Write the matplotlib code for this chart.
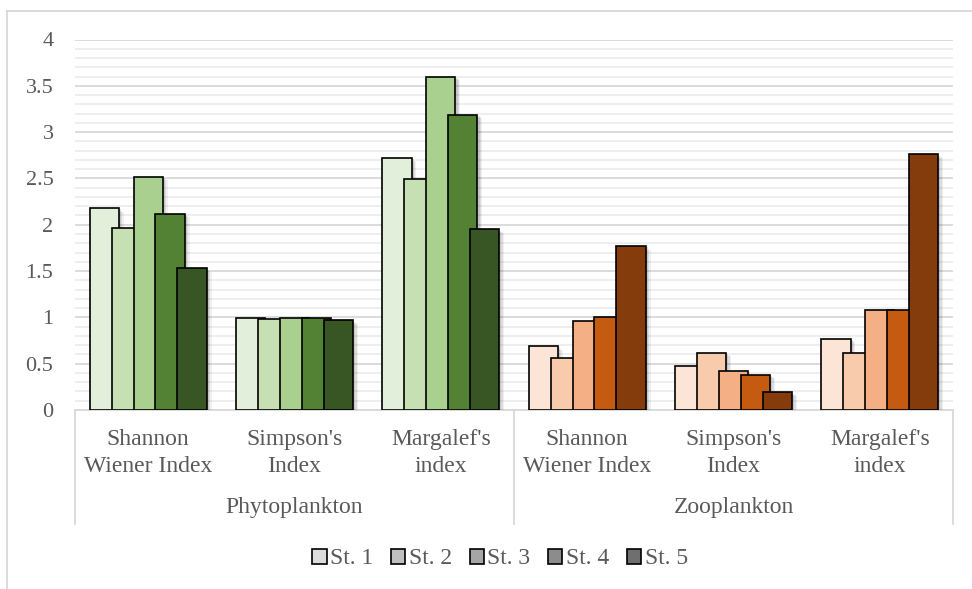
import numpy as np
import matplotlib
matplotlib.use("Agg")
import matplotlib.pyplot as plt
import matplotlib.patheffects as pe
from matplotlib.patches import Patch
from matplotlib.lines import Line2D
from matplotlib.ticker import MultipleLocator
from matplotlib.transforms import blended_transform_factory

# Diversity indices per station
categories = ["Shannon\nWiener Index", "Simpson's\nIndex", "Margalef's\nindex",
              "Shannon\nWiener Index", "Simpson's\nIndex", "Margalef's\nindex"]
groups = ["Phytoplankton", "Zooplankton"]
stations = ["St. 1", "St. 2", "St. 3", "St. 4", "St. 5"]

st1 = [2.18, 0.99, 2.72, 0.69, 0.47, 0.77]
st2 = [1.96, 0.98, 2.49, 0.56, 0.62, 0.62]
st3 = [2.52, 0.99, 3.60, 0.96, 0.42, 1.08]
st4 = [2.12, 0.99, 3.19, 1.00, 0.38, 1.08]
st5 = [1.53, 0.97, 1.95, 1.77, 0.19, 2.76]
values = [st1, st2, st3, st4, st5]

greens = ["#E2EFDA", "#C6E0B4", "#A9D08E", "#548235", "#375623"]
oranges = ["#FCE4D6", "#F8CBAD", "#F4B084", "#C55A11", "#843C0C"]
legend_grays = ["#DCDCDC", "#BFBFBF", "#A5A5A5", "#8C8C8C", "#6F6F6F"]

W, H = 972, 589
txt = "#595959"
plt.rcParams["font.family"] = ["Liberation Serif", "DejaVu Serif"]

fig = plt.figure(figsize=(W / 100, H / 100), dpi=100)
ax = fig.add_axes([75 / W, (H - 410) / H, (953 - 75) / W, (410 - 39.5) / H])

x = np.arange(len(categories))
step, width = 0.15, 0.2
shadow = [pe.SimplePatchShadow(offset=(3.5, -2.5), shadow_rgbFace="k", alpha=0.06),
          pe.SimplePatchShadow(offset=(2.5, -1.8), shadow_rgbFace="k", alpha=0.08),
          pe.SimplePatchShadow(offset=(1.5, -1), shadow_rgbFace="k", alpha=0.1),
          pe.Normal()]
for i, vals in enumerate(values):
    cols = [greens[i]] * 3 + [oranges[i]] * 3
    bars = ax.bar(x + (i - 2) * step, vals, width, color=cols,
                  edgecolor="black", linewidth=1.2, zorder=3 + i)
    for b in bars:
        b.set_path_effects(shadow)

ax.set_xlim(-0.5, len(categories) - 0.5)
ax.set_ylim(0, 4)
ax.yaxis.set_major_locator(MultipleLocator(0.5))
ax.yaxis.set_minor_locator(MultipleLocator(0.1))
ax.set_yticklabels([f"{v:g}" for v in ax.get_yticks()])
ax.grid(which="major", axis="y", color="#D9D9D9", linewidth=1.3, zorder=1)
ax.grid(which="minor", axis="y", color="#EDEDED", linewidth=1.3, zorder=0)
ax.tick_params(axis="y", which="both", length=0, pad=15.5, labelsize=16, labelcolor=txt)
ax.set_xticks([])
for s in ["top", "right", "left"]:
    ax.spines[s].set_visible(False)
ax.spines["bottom"].set_color("#D9D9D9")
ax.spines["bottom"].set_linewidth(1.3)

# Two-level category axis below the plot
tr = blended_transform_factory(ax.transData, fig.transFigure)
for xi, lab in zip(x, categories):
    fig.text(xi, 1 - 453 / H, lab, transform=tr, ha="center", va="center",
             fontsize=17, color=txt, linespacing=1.35)
for gi, g in enumerate(groups):
    fig.text(gi * 3 + 1, 1 - 508 / H, g, transform=tr, ha="center", va="center",
             fontsize=17, color=txt)
for xs in [-0.5, 2.5, 5.5]:
    fig.add_artist(Line2D([xs, xs], [1 - 410 / H, 1 - 524 / H], transform=tr,
                          color="#D9D9D9", linewidth=1.3))

# Chart frame
fig.add_artist(Line2D([7 / W, 7 / W], [0, 1 - 10.5 / H], color="#D9D9D9", linewidth=1.3))
fig.add_artist(Line2D([7 / W, 1], [1 - 10.5 / H, 1 - 10.5 / H], color="#D9D9D9", linewidth=1.3))

handles = [Patch(facecolor=c, edgecolor="black", linewidth=1.2) for c in legend_grays]
fig.legend(handles, stations, loc="center", bbox_to_anchor=(500 / W, 1 - 559 / H),
           ncol=5, frameon=False, fontsize=17, labelcolor=txt,
           handlelength=0.6, handleheight=0.6, handletextpad=0.15, columnspacing=0.75)

fig.savefig("out.png", dpi=100)
